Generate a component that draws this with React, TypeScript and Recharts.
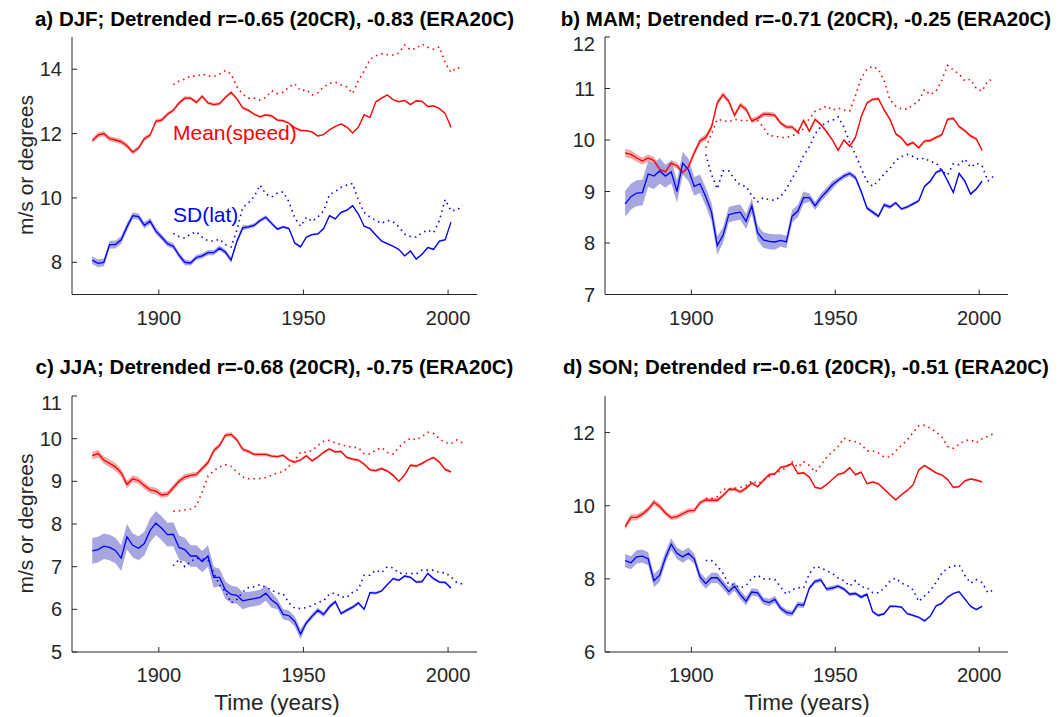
import React from 'react';
import { ComposedChart, Line, Area, XAxis, YAxis } from 'recharts';

const FONT = '"Liberation Sans", Arial, Helvetica, sans-serif';
const AXIS = '#262626';
const RED = '#ff0000';
const BLUE = '#0000ff';

// 20CR: 2-yearly samples 1877..2001, ERA20C: 1905..2005
const years20CR = Array.from({ length: 63 }, (_, i) => 1877 + 2 * i);
const yearsEra = Array.from({ length: 51 }, (_, i) => 1905 + 2 * i);
const allYears = Array.from({ length: 65 }, (_, i) => 1877 + 2 * i);
const xTicks = [1900, 1950, 2000];

// a) DJF
const aMean = [
  11.78, 11.95, 12.0, 11.84, 11.8, 11.75, 11.62, 11.42, 11.55, 11.84,
  11.95, 12.38, 12.42, 12.6, 12.72, 12.95, 13.1, 13.1, 12.97, 13.16,
  12.95, 12.9, 12.93, 13.12, 13.28, 13.08, 12.8, 12.72, 12.6, 12.52,
  12.58, 12.55, 12.42, 12.4, 12.32, 12.18, 12.1, 12.09, 12.05, 11.92,
  11.97, 12.12, 12.22, 12.3, 12.2, 12.02, 12.2, 12.58, 12.5, 12.98,
  13.1, 13.2, 13.05, 12.99, 13.03, 12.9, 13.02, 13.0, 12.84, 12.86,
  12.78, 12.62, 12.2,
];
const aSd = [
  8.07, 7.97, 8.0, 8.55, 8.55, 8.7, 9.1, 9.45, 9.42, 9.15,
  9.28, 8.97, 8.78, 8.58, 8.5, 8.22, 8.0, 7.98, 8.15, 8.2,
  8.3, 8.3, 8.44, 8.32, 8.07, 8.65, 9.07, 9.1, 9.15, 9.3,
  9.4, 9.21, 9.03, 9.1, 9.05, 8.6, 8.48, 8.78, 8.86, 8.88,
  9.05, 9.45, 9.35, 9.55, 9.62, 9.76, 9.5, 9.12, 9.05, 8.85,
  8.66, 8.58, 8.5, 8.4, 8.2, 8.35, 8.1, 8.25, 8.46, 8.4,
  8.66, 8.7, 9.25,
];
const aMeanEra = [
  13.52, 13.63, 13.69, 13.79, 13.78, 13.85, 13.79, 13.77, 13.85, 13.96,
  13.85, 13.46, 13.22, 13.1, 13.1, 13.04, 13.12, 13.33, 13.24, 13.28,
  13.45, 13.55, 13.33, 13.36, 13.2, 13.27, 13.45, 13.56, 13.6, 13.52,
  13.45, 13.25, 13.64, 13.95, 14.3, 14.42, 14.48, 14.45, 14.44, 14.5,
  14.75, 14.6, 14.65, 14.78, 14.68, 14.62, 14.69, 14.2, 13.9, 14.05,
  14.0,
];
const aSdEra = [
  8.9, 8.8, 8.75, 8.88, 8.95, 8.78, 8.67, 8.66, 8.72, 8.55,
  8.48, 9.0, 9.7, 9.84, 10.05, 10.4, 10.12, 10.03, 10.15, 10.19,
  9.88, 9.38, 9.12, 9.4, 9.27, 9.41, 9.6, 10.1, 10.2, 10.33,
  10.4, 10.45, 9.93, 9.55, 9.41, 9.3, 9.21, 9.3, 9.26, 9.1,
  8.88, 8.8, 8.78, 8.92, 9.0, 8.92, 9.3, 9.95, 9.6, 9.62,
  9.77,
];

// b) MAM
const bMean = [
  9.75, 9.72, 9.65, 9.59, 9.65, 9.6, 9.43, 9.38, 9.55, 9.5,
  9.37, 9.48, 9.75, 9.98, 10.05, 10.25, 10.72, 10.88, 10.75, 10.48,
  10.68, 10.6, 10.37, 10.42, 10.5, 10.5, 10.48, 10.33, 10.25, 10.25,
  10.15, 10.38, 10.17, 10.4, 10.3, 10.16, 10.0, 9.8, 10.0, 9.88,
  10.05, 10.45, 10.72, 10.79, 10.8, 10.58, 10.4, 10.12, 10.04, 9.9,
  9.95, 9.85, 9.98, 9.99, 10.05, 10.1, 10.4, 10.42, 10.26, 10.18,
  10.08, 10.02, 9.8,
];
const bSd = [
  8.76, 8.9, 8.97, 8.98, 9.34, 9.3, 9.4, 9.3, 9.38, 9.0,
  9.55, 9.42, 9.1, 9.15, 8.9, 8.6, 7.95, 8.15, 8.55, 8.58,
  8.6, 8.42, 8.72, 8.2, 8.06, 8.03, 8.02, 8.05, 8.02, 8.52,
  8.62, 8.88, 8.88, 8.72, 8.88, 9.0, 9.13, 9.22, 9.3, 9.35,
  9.27, 9.0, 8.68, 8.6, 8.52, 8.74, 8.7, 8.78, 8.66, 8.7,
  8.76, 8.82, 9.1, 9.2, 9.37, 9.42, 9.21, 8.98, 9.35, 9.2,
  8.95, 9.05, 9.2,
];
const bMeanEra = [
  9.85, 10.12, 10.4, 10.38, 10.35, 10.4, 10.38, 10.38, 10.38, 10.38,
  10.25, 10.08, 10.08, 10.05, 10.05, 10.08, 10.12, 10.22, 10.42, 10.56,
  10.6, 10.66, 10.58, 10.62, 10.58, 10.56, 10.86, 11.2, 11.38, 11.43,
  11.37, 11.15, 10.78, 10.66, 10.6, 10.6, 10.68, 10.76, 10.98, 10.88,
  10.95, 11.16, 11.45, 11.36, 11.28, 11.15, 11.18, 11.0, 10.95, 11.15,
  11.18,
];
const bSdEra = [
  9.72, 9.33, 9.05, 9.4, 9.4, 9.24, 9.12, 9.1, 8.92, 8.8,
  8.88, 8.84, 8.83, 8.9, 9.05, 9.25, 9.45, 9.7, 9.87, 10.12,
  10.26, 10.35, 10.38, 10.45, 10.25, 9.95, 9.72, 9.45, 9.2, 9.1,
  9.21, 9.34, 9.45, 9.6, 9.68, 9.72, 9.68, 9.62, 9.65, 9.58,
  9.56, 9.4, 9.32, 9.54, 9.52, 9.63, 9.47, 9.55, 9.5, 9.2,
  9.3,
];

// c) JJA
const cMean = [
  9.6, 9.65, 9.5, 9.42, 9.34, 9.2, 8.93, 9.06, 9.02, 8.9,
  8.8, 8.77, 8.68, 8.7, 8.85, 9.0, 9.1, 9.14, 9.16, 9.3,
  9.44, 9.72, 9.84, 10.08, 10.1, 9.97, 9.75, 9.7, 9.63, 9.63,
  9.63, 9.59, 9.58, 9.61, 9.5, 9.45, 9.5, 9.6, 9.48, 9.57,
  9.68, 9.76, 9.69, 9.7, 9.56, 9.52, 9.5, 9.4, 9.27, 9.25,
  9.3, 9.24, 9.14, 9.0, 9.15, 9.38, 9.36, 9.42, 9.5, 9.56,
  9.45, 9.28, 9.22,
];
const cSd = [
  7.37, 7.4, 7.48, 7.45, 7.38, 7.2, 7.7, 7.5, 7.43, 7.54,
  7.85, 8.02, 7.9, 7.75, 7.76, 7.45, 7.4, 7.25, 7.25, 7.12,
  7.25, 6.75, 6.75, 6.45, 6.35, 6.33, 6.2, 6.23, 6.25, 6.28,
  6.38, 6.22, 6.12, 5.88, 5.85, 5.72, 5.42, 5.68, 5.84, 5.98,
  5.88, 6.06, 6.18, 5.9, 5.98, 6.05, 6.15, 6.0, 6.39, 6.38,
  6.43, 6.58, 6.72, 6.68, 6.78, 6.75, 6.64, 6.65, 6.84, 6.72,
  6.64, 6.63, 6.5,
];
const cMeanEra = [
  8.3, 8.31, 8.33, 8.35, 8.42, 8.75, 9.12, 9.25, 9.34, 9.39,
  9.35, 9.22, 9.1, 9.06, 9.06, 9.07, 9.09, 9.14, 9.2, 9.23,
  9.35, 9.5, 9.68, 9.68, 9.72, 9.84, 9.94, 9.96, 9.9, 9.86,
  9.82, 9.8, 9.79, 9.65, 9.64, 9.73, 9.79, 9.68, 9.64, 9.8,
  9.92, 10.01, 9.97, 10.05, 10.15, 10.12, 10.0, 9.91, 9.88, 9.97,
  9.9,
];
const cSdEra = [
  7.02, 7.17, 7.0, 7.12, 7.2, 7.18, 7.15, 6.85, 6.57, 6.42,
  6.15, 6.23, 6.41, 6.51, 6.53, 6.58, 6.52, 6.45, 6.38, 6.36,
  6.15, 6.03, 6.02, 6.04, 6.09, 6.16, 6.2, 6.36, 6.38, 6.29,
  6.28, 6.4, 6.47, 6.8, 6.8, 6.92, 6.86, 7.0, 6.97, 6.85,
  6.84, 6.84, 6.83, 6.92, 6.92, 6.92, 6.86, 6.86, 6.76, 6.63,
  6.59,
];

// d) SON
const dMean = [
  9.43, 9.68, 9.68, 9.77, 9.9, 10.1, 9.98, 9.8, 9.67, 9.7,
  9.78, 9.86, 9.87, 10.08, 10.16, 10.15, 10.15, 10.28, 10.44, 10.45,
  10.38, 10.48, 10.62, 10.52, 10.69, 10.85, 10.87, 11.05, 11.08, 11.15,
  10.88, 10.9, 10.78, 10.5, 10.47, 10.58, 10.72, 10.86, 10.9, 11.04,
  10.85, 10.92, 10.6, 10.65, 10.6, 10.45, 10.3, 10.16, 10.3, 10.42,
  10.57, 10.98, 11.1, 11.0, 10.9, 10.84, 10.72, 10.5, 10.52, 10.68,
  10.73, 10.7, 10.65,
];
const dSd = [
  8.5, 8.44, 8.6, 8.62, 8.55, 7.95, 8.1, 8.58, 8.95, 8.7,
  8.6, 8.7, 8.55, 8.05, 7.87, 8.03, 8.03, 7.85, 7.65, 7.8,
  7.57, 7.39, 7.64, 7.62, 7.4, 7.35, 7.44, 7.2, 7.08, 7.05,
  7.3, 7.28, 7.75, 7.93, 7.97, 7.72, 7.75, 7.8, 7.72, 7.58,
  7.6, 7.5, 7.58, 7.1, 7.0, 7.05, 7.25, 7.25, 7.23, 7.05,
  7.0, 6.95, 6.85, 6.98, 7.26, 7.33, 7.5, 7.6, 7.65, 7.45,
  7.25, 7.16, 7.25,
];
const dMeanEra = [
  10.2, 10.2, 10.25, 10.45, 10.46, 10.48, 10.5, 10.55, 10.68, 10.6,
  10.7, 10.8, 10.88, 10.95, 11.05, 11.2, 11.05, 11.2, 11.1, 10.92,
  11.1, 11.33, 11.47, 11.62, 11.85, 11.78, 11.75, 11.68, 11.5, 11.5,
  11.44, 11.33, 11.33, 11.5, 11.65, 11.8, 12.0, 12.19, 12.2, 12.12,
  12.02, 11.88, 11.62, 11.57, 11.68, 11.78, 11.8, 11.72, 11.83, 11.9,
  11.97,
];
const dSdEra = [
  8.5, 8.5, 8.35, 8.15, 7.85, 7.85, 7.75, 7.82, 8.02, 8.1,
  8.0, 8.0, 7.98, 7.78, 7.58, 7.7, 7.76, 7.75, 8.14, 8.34,
  8.3, 8.22, 8.15, 8.02, 7.95, 7.8, 7.95, 7.78, 7.76, 7.62,
  7.62, 7.75, 7.94, 8.02, 7.88, 7.82, 7.7, 7.38, 7.53, 7.68,
  7.9, 8.15, 8.3, 8.35, 8.38, 8.1, 7.88, 7.98, 7.9, 7.62,
  7.7,
];

// ensemble spread (half width of shading), one value per decade 1870s..2000s
const aMeanSpread = [0.08, 0.08, 0.07, 0.06, 0.05, 0.05, 0.04, 0.04, 0.03, 0.03, 0.03, 0.03, 0.03, 0.03];
const aSdSpread = [0.12, 0.12, 0.1, 0.09, 0.08, 0.08, 0.06, 0.04, 0.03, 0.03, 0.03, 0.03, 0.03, 0.03];
const bMeanSpread = [0.08, 0.07, 0.06, 0.06, 0.05, 0.05, 0.04, 0.03, 0.03, 0.03, 0.03, 0.03, 0.03, 0.03];
const bSdSpread = [0.25, 0.25, 0.22, 0.18, 0.15, 0.15, 0.12, 0.08, 0.05, 0.04, 0.03, 0.03, 0.03, 0.03];
const cMeanSpread = [0.09, 0.09, 0.08, 0.07, 0.06, 0.05, 0.04, 0.03, 0.03, 0.03, 0.03, 0.03, 0.03, 0.03];
const cSdSpread = [0.3, 0.3, 0.28, 0.28, 0.25, 0.2, 0.18, 0.12, 0.06, 0.04, 0.03, 0.03, 0.03, 0.03];
const dMeanSpread = [0.09, 0.08, 0.07, 0.06, 0.05, 0.04, 0.03, 0.03, 0.03, 0.03, 0.03, 0.03, 0.03, 0.03];
const dSdSpread = [0.18, 0.18, 0.16, 0.14, 0.12, 0.1, 0.08, 0.06, 0.05, 0.04, 0.03, 0.03, 0.03, 0.03];

function buildRows(mean, sd, meanEra, sdEra, meanSpread, sdSpread) {
  return allYears.map((year) => {
    const k = years20CR.indexOf(year);
    const j = yearsEra.indexOf(year);
    const dec = Math.floor((year - 1870) / 10);
    return {
      year,
      mean: k >= 0 ? mean[k] : null,
      sd: k >= 0 ? sd[k] : null,
      meanBand: k >= 0 ? [mean[k] - meanSpread[dec], mean[k] + meanSpread[dec]] : null,
      sdBand: k >= 0 ? [sd[k] - sdSpread[dec], sd[k] + sdSpread[dec]] : null,
      meanEra: j >= 0 ? meanEra[j] : null,
      sdEra: j >= 0 ? sdEra[j] : null,
    };
  });
}

const panels = [
  {
    key: 'a', title: 'a) DJF; Detrended r=-0.65 (20CR), -0.83 (ERA20C)',
    left: 72, top: 36.5, w: 405, h: 257.5, domain: [7, 15], ticks: [8, 10, 12, 14],
    rows: buildRows(aMean, aSd, aMeanEra, aSdEra, aMeanSpread, aSdSpread),
  },
  {
    key: 'b', title: 'b) MAM; Detrended r=-0.71 (20CR), -0.25 (ERA20C)',
    left: 604.5, top: 36.5, w: 403, h: 257.5, domain: [7, 12], ticks: [7, 8, 9, 10, 11, 12],
    rows: buildRows(bMean, bSd, bMeanEra, bSdEra, bMeanSpread, bSdSpread),
  },
  {
    key: 'c', title: 'c) JJA; Detrended r=-0.68 (20CR), -0.75 (ERA20C)',
    left: 72, top: 395.5, w: 405, h: 256, domain: [5, 11], ticks: [5, 6, 7, 8, 9, 10, 11],
    rows: buildRows(cMean, cSd, cMeanEra, cSdEra, cMeanSpread, cSdSpread),
  },
  {
    key: 'd', title: 'd) SON; Detrended r=-0.61 (20CR), -0.51 (ERA20C)',
    left: 604.5, top: 395.5, w: 403, h: 256, domain: [6, 13], ticks: [6, 8, 10, 12],
    rows: buildRows(dMean, dSd, dMeanEra, dSdEra, dMeanSpread, dSdSpread),
  },
];

function Panel({ p }) {
  return (
    <div style={{ position: 'absolute', left: p.left - 60, top: p.top - 5 }}>
      <ComposedChart
        width={p.w + 65}
        height={p.h + 50}
        data={p.rows}
        margin={{ top: 5, right: 5, left: 0, bottom: 0 }}
      >
        <XAxis
          dataKey="year"
          type="number"
          domain={[1870, 2010]}
          ticks={xTicks}
          height={45}
          tickSize={-5}
          tickMargin={21}
          axisLine={{ stroke: AXIS, strokeWidth: 1 }}
          tickLine={{ stroke: AXIS }}
          tick={{ fill: AXIS, fontSize: 20, fontFamily: FONT }}
          allowDataOverflow
        />
        <YAxis
          type="number"
          domain={p.domain}
          ticks={p.ticks}
          width={60}
          tickSize={-5}
          tickMargin={15}
          axisLine={{ stroke: AXIS, strokeWidth: 1 }}
          tickLine={{ stroke: AXIS }}
          tick={{ fill: AXIS, fontSize: 20, fontFamily: FONT }}
          allowDataOverflow
        />
        <Area dataKey="meanBand" type="linear" stroke="none" fill="#f09a9a" fillOpacity={0.85} isAnimationActive={false} dot={false} activeDot={false} />
        <Area dataKey="sdBand" type="linear" stroke="none" fill="#9696dc" fillOpacity={0.85} isAnimationActive={false} dot={false} activeDot={false} />
        <Line dataKey="meanEra" type="linear" stroke={RED} strokeWidth={1.6} strokeDasharray="1.5 4" strokeLinecap="butt" dot={false} activeDot={false} isAnimationActive={false} />
        <Line dataKey="sdEra" type="linear" stroke={BLUE} strokeWidth={1.6} strokeDasharray="1.5 4" strokeLinecap="butt" dot={false} activeDot={false} isAnimationActive={false} />
        <Line dataKey="mean" type="linear" stroke={RED} strokeWidth={1.3} dot={false} activeDot={false} isAnimationActive={false} />
        <Line dataKey="sd" type="linear" stroke={BLUE} strokeWidth={1.3} dot={false} activeDot={false} isAnimationActive={false} />
      </ComposedChart>
    </div>
  );
}

export default function App() {
  return (
    <div style={{ position: 'absolute', left: 0, top: 0, width: 1060, height: 717, background: '#fff', fontFamily: FONT }}>
      {panels.map((p) => (
        <Panel key={p.key} p={p} />
      ))}
      <svg width={1060} height={717} style={{ position: 'absolute', left: 0, top: 0, pointerEvents: 'none' }} fontFamily={FONT}>
        {panels.map((p, i) => (
          <text key={p.key} x={p.left + p.w / 2} y={i < 2 ? 25.5 : 374} textAnchor="middle" fontSize={20.5} fontWeight="bold" fill="#000">
            {p.title}
          </text>
        ))}
        <text transform="rotate(-90)" x={-165} y={33} textAnchor="middle" fontSize={21} fill={AXIS}>m/s or degrees</text>
        <text transform="rotate(-90)" x={-523.5} y={33} textAnchor="middle" fontSize={21} fill={AXIS}>m/s or degrees</text>
        <text x={277} y={710} textAnchor="middle" fontSize={22.5} fill={AXIS}>Time (years)</text>
        <text x={807} y={710} textAnchor="middle" fontSize={22.5} fill={AXIS}>Time (years)</text>
        <text x={173} y={140} fontSize={21} fill={RED}>Mean(speed)</text>
        <text x={173} y={221.5} fontSize={21} fill={BLUE}>SD(lat)</text>
      </svg>
    </div>
  );
}
